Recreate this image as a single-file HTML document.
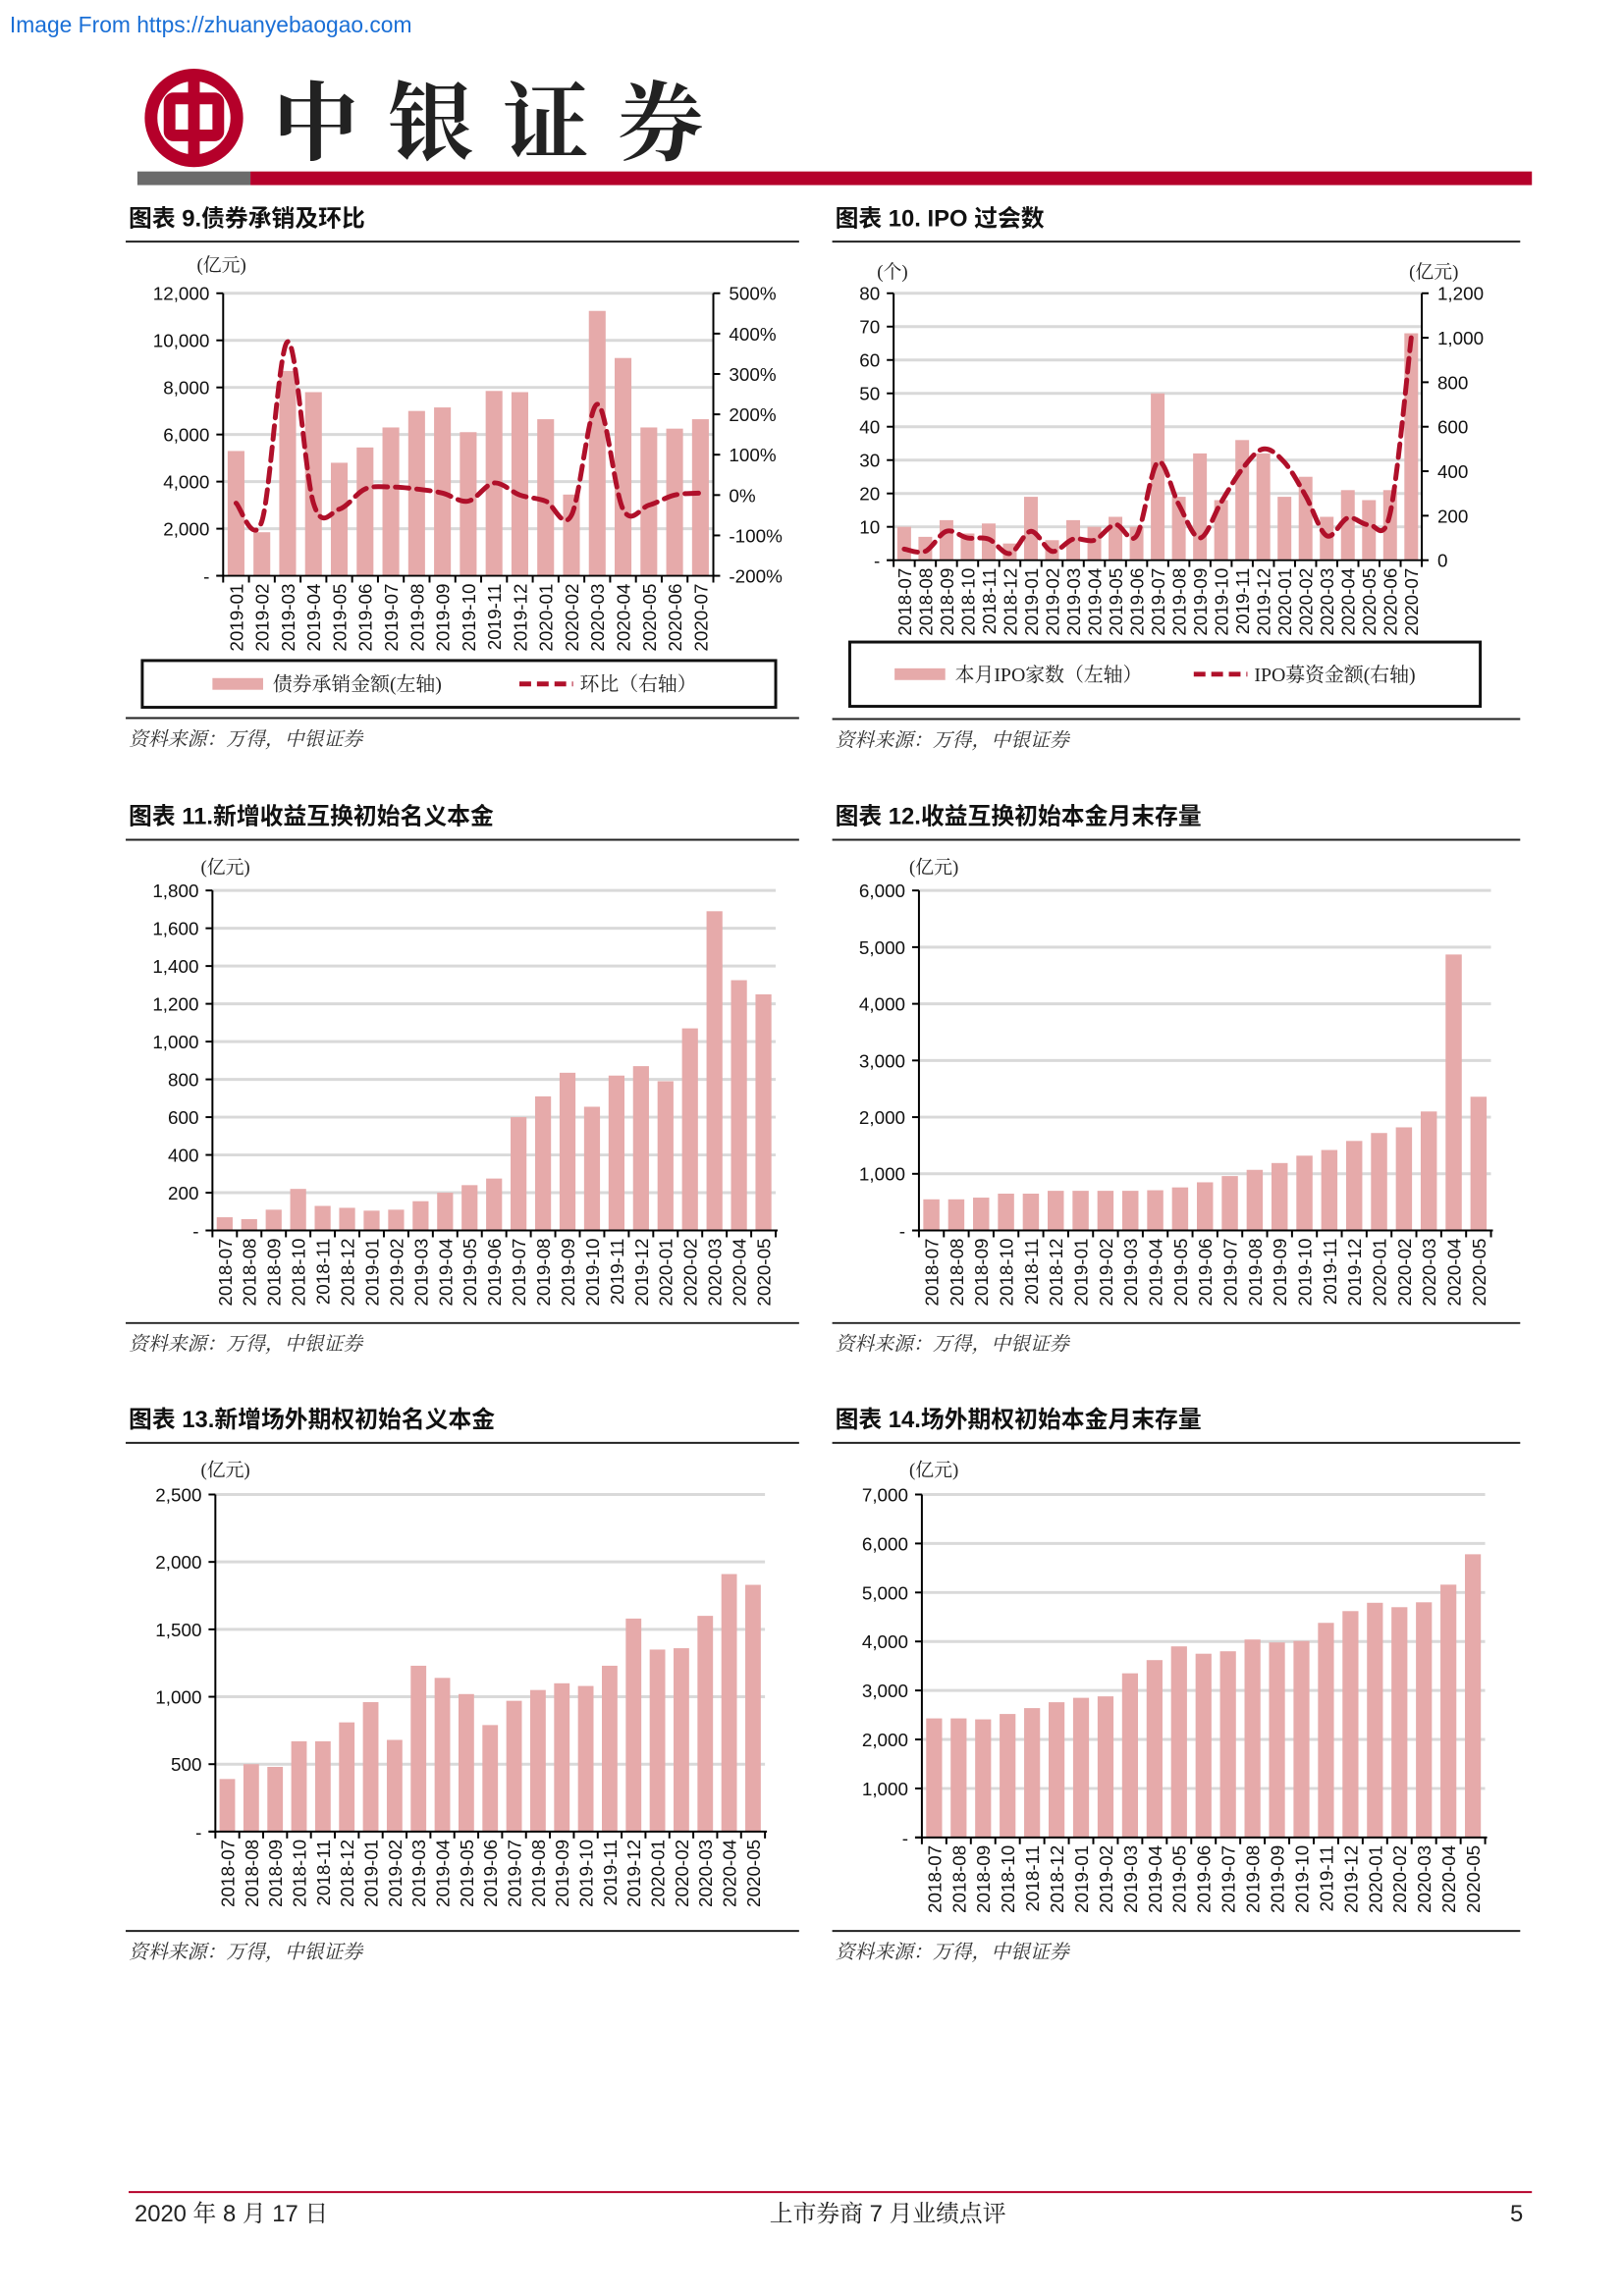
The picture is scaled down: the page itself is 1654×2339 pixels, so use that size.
<!DOCTYPE html>
<html><head><meta charset="utf-8">
<style>
html,body{margin:0;padding:0;background:#fff;}
body{width:1654px;height:2339px;position:relative;overflow:hidden;font-family:"Liberation Sans","Noto Sans CJK SC",sans-serif;}
svg{position:absolute;left:0;top:0;}
</style></head>
<body>
<svg id="page" width="1654" height="2339" viewBox="0 0 1654 2339" xmlns="http://www.w3.org/2000/svg">
 <g transform="scale(0.9925)">
  <text x="10" y="33" font-size="23" fill="#1a6fd6" font-family="Liberation Sans, sans-serif">Image From https://zhuanyebaogao.com</text>
  <g>
    <circle cx="199" cy="121" r="44" fill="none" stroke="#b5002a" stroke-width="13"/>
    <rect x="174" y="101" width="50" height="38" rx="4" fill="none" stroke="#b5002a" stroke-width="12"/>
    <rect x="193" y="72" width="12" height="98" fill="#b5002a"/>
  </g>
  <text x="280" y="157" font-size="88" font-weight="bold" letter-spacing="30" fill="#222" font-family="Noto Serif CJK SC, serif">中银证券</text>
  <rect x="141" y="176" width="116" height="14" fill="#6b6b6b"/>
  <rect x="257" y="176" width="1315" height="14" fill="#b5002a"/>
  <g id="charts"></g>
  <line x1="132" y1="2250" x2="1572" y2="2250" stroke="#b5002a" stroke-width="2"/>
  <text x="138" y="2280" font-size="24" fill="#222" font-family="Liberation Sans Narrow, Liberation Sans, Noto Serif CJK SC, sans-serif">2020 年 8 月 17 日</text>
  <text x="911" y="2280" font-size="24" fill="#222" text-anchor="middle" font-family="Liberation Sans, Noto Serif CJK SC, serif">上市券商 7 月业绩点评</text>
  <text x="1563" y="2280" font-size="24" fill="#222" text-anchor="end">5</text>
 </g>
</svg>
<script>
// ---- Chart 9 data ----
const c9Cats = ["2019-01","2019-02","2019-03","2019-04","2019-05","2019-06","2019-07","2019-08","2019-09","2019-10","2019-11","2019-12","2020-01","2020-02","2020-03","2020-04","2020-05","2020-06","2020-07"];
const c9Bars = [5300,1850,8700,7800,4800,5450,6300,7000,7150,6100,7850,7800,6650,3450,11250,9250,6300,6250,6650];
const c9Line = [-20,-65,380,-20,-35,15,20,15,5,-15,30,0,-15,-50,225,-35,-25,0,5];
const c9LeftTicks = ["-","2,000","4,000","6,000","8,000","10,000","12,000"];
const c9RightTicks = ["-200%","-100%","0%","100%","200%","300%","400%","500%"];
// ---- Chart 10 data ----
const c10Cats = ["2018-07","2018-08","2018-09","2018-10","2018-11","2018-12","2019-01","2019-02","2019-03","2019-04","2019-05","2019-06","2019-07","2019-08","2019-09","2019-10","2019-11","2019-12","2020-01","2020-02","2020-03","2020-04","2020-05","2020-06","2020-07"];
const c10Bars = [10,7,12,8,11,5,19,6,12,10,13,10,50,19,32,18,36,32,19,25,13,21,18,21,68];
const c10Line = [50,40,130,100,95,30,130,40,95,90,160,110,440,250,100,260,410,500,440,290,110,190,160,210,1000];
const c10LeftTicks = ["-","10","20","30","40","50","60","70","80"];
const c10RightTicks = ["0","200","400","600","800","1,000","1,200"];
// ---- Charts 11-14 data ----
const cMonths = ["2018-07","2018-08","2018-09","2018-10","2018-11","2018-12","2019-01","2019-02","2019-03","2019-04","2019-05","2019-06","2019-07","2019-08","2019-09","2019-10","2019-11","2019-12","2020-01","2020-02","2020-03","2020-04","2020-05"];
const c11Bars = [70,60,110,220,130,120,105,110,155,200,240,275,600,710,835,655,820,870,790,1070,1690,1325,1250];
const c11Ticks = ["-","200","400","600","800","1,000","1,200","1,400","1,600","1,800"];
const c12Bars = [550,550,580,650,650,700,700,700,700,710,760,850,960,1070,1190,1320,1420,1580,1720,1820,2100,4870,2360];
const c12Ticks = ["-","1,000","2,000","3,000","4,000","5,000","6,000"];
const c13Bars = [390,500,480,670,670,810,960,680,1230,1140,1020,790,970,1050,1100,1080,1230,1580,1350,1360,1600,1910,1830];
const c13Ticks = ["-","500","1,000","1,500","2,000","2,500"];
const c14Bars = [2430,2430,2410,2520,2640,2760,2850,2880,3350,3620,3900,3750,3800,4040,3980,4010,4380,4620,4790,4700,4800,5160,5780];
const c14Ticks = ["-","1,000","2,000","3,000","4,000","5,000","6,000","7,000"];

const NS="http://www.w3.org/2000/svg";
const root=document.getElementById('charts');
const BAR="#e6aaaa", RED="#b0102a", GRID="#d9d9d9";
const NARROW="Liberation Sans Narrow, Liberation Sans, sans-serif";
const CJK="Liberation Serif, Noto Serif CJK SC, serif";
function mk(tag,attrs,parent){const e=document.createElementNS(NS,tag);for(const k in attrs)e.setAttribute(k,attrs[k]);(parent||root).appendChild(e);return e;}
function txt(x,y,s,attrs,parent){const t=mk('text',Object.assign({x:x,y:y},attrs),parent);t.textContent=s;return t;}

function chart(o){
  const g=mk('g',{});
  
  
  const t=txt(o.tx,o.ty,o.title,{'font-size':24,'font-weight':'bold','fill':'#111','font-family':'Liberation Sans, Noto Sans CJK SC, sans-serif'},g);
  
  
  const tl=mk('line',{x1:o.lx1,x2:o.lx2,y1:o.ly,y2:o.ly,stroke:'#222','stroke-width':2},g);
  
  
  const sl=mk('line',{x1:o.lx1,x2:o.lx2,y1:o.sy,y2:o.sy,stroke:'#222','stroke-width':2},g);
  
  
  const st=txt(o.tx,o.sy+28,'资料来源：万得，中银证券',{'font-size':20,'font-style':'italic','fill':'#333','font-family':CJK},g);
  
  
  const u=txt(o.ux,o.uy,o.unit,{'font-size':19,'fill':'#222','font-family':CJK},g);
  
  
  if(o.unitR){const ur=txt(o.urx,o.uy,o.unitR,{'font-size':19,'fill':'#222','font-family':CJK},g);
    
    }
  const L=o.L,R=o.R,T=o.T,B=o.B;
  const n=o.cats.length, bw=(R-L)/n;
  const yL=v=>B-(v-o.lmin)/(o.lmax-o.lmin)*(B-T);
  o.lticks.forEach((s,i)=>{
    const v=o.lmin+i*o.lstep, y=yL(v);
    if(i>0){const gl=mk('line',{x1:L,x2:R,y1:y,y2:y,stroke:GRID,'stroke-width':3},g);
      
      }
    mk('line',{x1:L-7,x2:L,y1:y,y2:y,stroke:'#000','stroke-width':2},g);
    const tk=txt(L-14,y+7,s,{'font-size':19,'text-anchor':'end','fill':'#111','font-family':NARROW},g);
    
    
  });
  o.bars.forEach((v,i)=>{
    const x=L+i*bw+bw*(1-o.bwr)/2, y=yL(v);
    const r=mk('rect',{x:x,y:y,width:bw*o.bwr,height:B-y,fill:BAR},g);
    
    
  });
  mk('line',{x1:L,x2:L,y1:T,y2:B,stroke:'#000','stroke-width':2},g);
  mk('line',{x1:L-7,x2:R+2,y1:B,y2:B,stroke:'#000','stroke-width':2},g);
  for(let i=0;i<=n;i++){mk('line',{x1:L+i*bw,x2:L+i*bw,y1:B,y2:B+7,stroke:'#000','stroke-width':2},g);}
  o.cats.forEach((c,i)=>{
    const cx=L+i*bw+bw/2+7;
    const xl=txt(0,0,c,{'font-size':19,'text-anchor':'end','fill':'#111','font-family':NARROW,transform:`translate(${cx},${B+8}) rotate(-90)`},g);
    
    
  });
  if(o.line){
    const yR=v=>B-(v-o.rmin)/(o.rmax-o.rmin)*(B-T);
    mk('line',{x1:R,x2:R,y1:T,y2:B,stroke:'#000','stroke-width':2},g);
    o.rticks.forEach((s,i)=>{
      const y=yR(o.rmin+i*o.rstep);
      mk('line',{x1:R,x2:R+7,y1:y,y2:y,stroke:'#000','stroke-width':2},g);
      const rt=txt(R+16,y+7,s,{'font-size':19,'fill':'#111','font-family':NARROW},g);
      
      
    });
    const pts=o.line.map((v,i)=>[L+i*bw+bw/2,yR(v)]);
    let d=`M${pts[0][0]},${pts[0][1]}`;
    for(let i=0;i<pts.length-1;i++){
      const p0=pts[i-1]||pts[i],p1=pts[i],p2=pts[i+1],p3=pts[i+2]||p2;
      d+=` C${p1[0]+(p2[0]-p0[0])/6},${p1[1]+(p2[1]-p0[1])/6} ${p2[0]-(p3[0]-p1[0])/6},${p2[1]-(p3[1]-p1[1])/6} ${p2[0]},${p2[1]}`;
    }
    const ln=mk('path',{d:d,fill:'none',stroke:RED,'stroke-width':5,'stroke-dasharray':'14,8','stroke-linecap':'round'},g);
    
    
  }
  if(o.legend){
    const lg=o.legend;
    const box=mk('rect',{x:lg.x,y:lg.y,width:lg.w,height:lg.h,fill:'none',stroke:'#111','stroke-width':3},g);
    
    
    const cy=lg.y+lg.h/2;
    const sw=mk('rect',{x:lg.bx,y:cy-6,width:52,height:12,fill:BAR},g);
    
    
    const l1=txt(lg.bx+62,cy+7,lg.t1,{'font-size':20,'fill':'#222','font-family':CJK},g);
    
    
    const sw2=mk('line',{x1:lg.lx,x2:lg.lx+55,y1:cy,y2:cy,stroke:RED,'stroke-width':5,'stroke-dasharray':'12,6'},g);
    
    
    const l2=txt(lg.lx+62,cy+7,lg.t2,{'font-size':20,'fill':'#222','font-family':CJK},g);
    
    
  }
}
chart({name:'chart-bond-underwriting',title:'图表 9.债券承销及环比',tx:132,ty:232,lx1:129,lx2:820,ly:248,sy:737,
  unit:'(亿元)',ux:202,uy:278,L:229,R:732,T:301,B:591,cats:c9Cats,bars:c9Bars,bwr:0.65,
  lmin:0,lmax:12000,lstep:2000,lticks:c9LeftTicks,line:c9Line,rmin:-200,rmax:500,rstep:100,rticks:c9RightTicks,
  legend:{x:146,y:678,w:650,h:48,bx:218,t1:'债券承销金额(左轴)',lx:533,t2:'环比（右轴）'}});
chart({name:'chart-ipo-count',title:'图表 10. IPO 过会数',tx:857,ty:232,lx1:854,lx2:1560,ly:248,sy:738,
  unit:'(个)',ux:900,uy:285,unitR:'(亿元)',urx:1446,L:917,R:1459,T:301,B:575,cats:c10Cats,bars:c10Bars,bwr:0.65,
  lmin:0,lmax:80,lstep:10,lticks:c10LeftTicks,line:c10Line,rmin:0,rmax:1200,rstep:200,rticks:c10RightTicks,
  legend:{x:872,y:659,w:647,h:66,bx:918,t1:'本月IPO家数（左轴）',lx:1225,t2:'IPO募资金额(右轴)'}});
chart({name:'chart-new-swap-notional',title:'图表 11.新增收益互换初始名义本金',tx:132,ty:846,lx1:129,lx2:820,ly:862,sy:1358,
  unit:'(亿元)',ux:206,uy:896,L:218,R:796,T:914,B:1263,cats:cMonths,bars:c11Bars,bwr:0.65,
  lmin:0,lmax:1800,lstep:200,lticks:c11Ticks});
chart({name:'chart-swap-notional-stock',title:'图表 12.收益互换初始本金月末存量',tx:857,ty:846,lx1:854,lx2:1560,ly:862,sy:1358,
  unit:'(亿元)',ux:933,uy:896,L:943,R:1530,T:914,B:1263,cats:cMonths,bars:c12Bars,bwr:0.65,
  lmin:0,lmax:6000,lstep:1000,lticks:c12Ticks});
chart({name:'chart-new-otc-option-notional',title:'图表 13.新增场外期权初始名义本金',tx:132,ty:1465,lx1:129,lx2:820,ly:1481,sy:1982,
  unit:'(亿元)',ux:206,uy:1515,L:221,R:785,T:1534,B:1880,cats:cMonths,bars:c13Bars,bwr:0.65,
  lmin:0,lmax:2500,lstep:500,lticks:c13Ticks});
chart({name:'chart-otc-option-notional-stock',title:'图表 14.场外期权初始本金月末存量',tx:857,ty:1465,lx1:854,lx2:1560,ly:1481,sy:1982,
  unit:'(亿元)',ux:933,uy:1515,L:946,R:1524,T:1534,B:1886,cats:cMonths,bars:c14Bars,bwr:0.65,
  lmin:0,lmax:7000,lstep:1000,lticks:c14Ticks});
</script>
</body></html>
